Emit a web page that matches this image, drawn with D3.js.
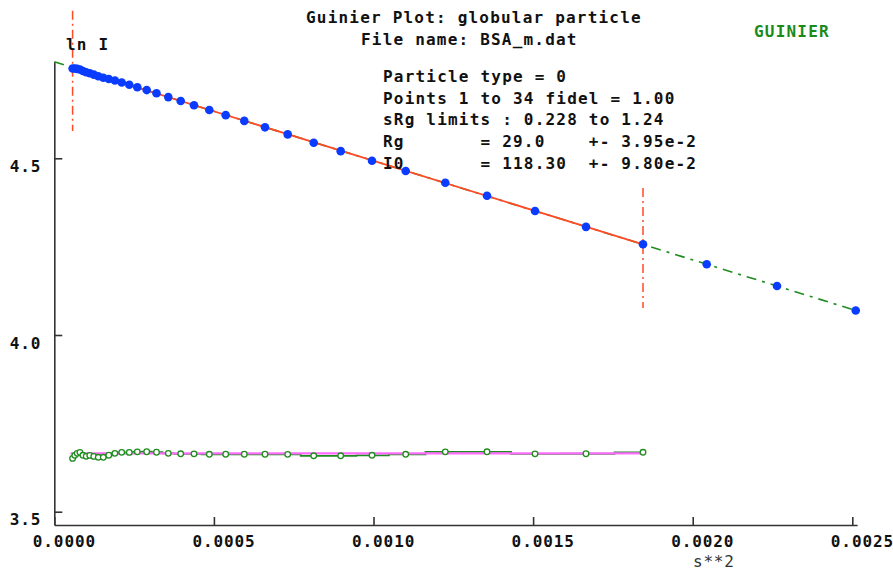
<!DOCTYPE html>
<html>
<head>
<meta charset="utf-8">
<script src="https://cdn.jsdelivr.net/npm/d3@7"></script>
<style>
  body { margin: 0; background: white; }
  text { white-space: pre; }
</style>
</head>
<body>
<div id="container"></div>
<script>
let w = 893;
let h = 570;

let s2 = [
  0.0000573, 0.0000642, 0.0000717, 0.0000802, 0.0000896, 0.0000999,
  0.0001112, 0.0001237, 0.0001378, 0.0001535, 0.0001707, 0.0001898,
  0.0002112, 0.0002350, 0.0002600, 0.0002895, 0.0003202, 0.0003571,
  0.0003960, 0.0004377, 0.0004856, 0.0005370, 0.0005952, 0.0006601,
  0.0007312, 0.0008127, 0.0008972, 0.0009953, 0.0011009, 0.0012249,
  0.0013556, 0.0015060, 0.0016657, 0.0018443, 0.0020439, 0.0022641,
  0.0025107
];
// ln I of every point
let lnI = [
  4.7541, 4.7540, 4.7531, 4.7513, 4.7469, 4.7434,
  4.7408, 4.7367, 4.7322, 4.7278, 4.7242, 4.7200,
  4.7146, 4.7079, 4.7012, 4.6930, 4.6841, 4.6731,
  4.6619, 4.6502, 4.6365, 4.6221, 4.6058, 4.5876,
  4.5676, 4.5439, 4.5202, 4.4930, 4.4640, 4.4307,
  4.3941, 4.3507, 4.3060, 4.2568, 4.2002, 4.1385,
  4.0694
];

// fit results shown in the plot
let firstPoint = 1;
let lastPoint = 34;
let rg = 29.0;
let i0 = 118.30;

let xTicks = [0, 0.0005, 0.0010, 0.0015, 0.0020, 0.0025];
let yTicks = [3.5, 4.0, 4.5];

let titleLines = ["Guinier Plot: globular particle", "File name: BSA_m.dat"];
let infoLines = [
  "Particle type = 0",
  "Points 1 to 34 fidel = 1.00",
  "sRg limits : 0.228 to 1.24",
  "Rg       = 29.0    +- 3.95e-2",
  "I0       = 118.30  +- 9.80e-2"
];

let mono = "'DejaVu Sans Mono', monospace";
let blue = "#0a3cff";
let red = "#ff4a26";
let green = "#1f8c1f";
let pink = "#ff6cff";

// straight line ln I = ln I0 - Rg^2/3 * s^2
function fit(q){
  return Math.log(i0) - rg * rg / 3 * q;
}

let points = s2.map(function(q, i){
  return {q: q, lnI: lnI[i], i: i + 1};
});
let fitPoints = points.filter(function(d){
  return d.i >= firstPoint && d.i <= lastPoint;
});

let viz = d3.select("#container")
  .append("svg")
    .attr("width", w)
    .attr("height", h)
    .style("background-color", "white")
;

let xScale = d3.scaleLinear().domain([0, 0.002515]).range([54.3, 857.1]);
let yScale = d3.scaleLinear().domain([3.4624, 4.7733]).range([525, 61.7]);
// residuals get their own, magnified scale around the pink zero line
let resScale = d3.scaleLinear().domain([-0.006, 0.006]).range([463.3, 443.3]);

// axes
let xAxis = d3.axisBottom(xScale)
  .tickValues(xTicks)
  .tickFormat(d3.format(".4f"))
  .tickSizeInner(-8)
  .tickSizeOuter(0);
let xAxisGroup = viz.append("g").attr("class", "xaxis")
  .attr("transform", "translate(0,525)")
  .call(xAxis);

let yAxis = d3.axisLeft(yScale)
  .tickValues(yTicks)
  .tickFormat(d3.format(".1f"))
  .tickSizeInner(-8)
  .tickSizeOuter(0);
let yAxisGroup = viz.append("g").attr("class", "yaxis")
  .attr("transform", "translate(54.3,0)")
  .call(yAxis);

viz.selectAll(".xaxis path, .yaxis path, .xaxis line, .yaxis line")
  .attr("stroke", "#333")
  .attr("stroke-width", 1.6);

xAxisGroup.selectAll("text")
  .attr("text-anchor", "start")
  .attr("x", -22)
  .attr("y", 22)
  .attr("dy", 0)
  .attr("fill", "#111")
  .style("font-family", mono)
  .style("font-weight", "bold")
  .style("font-size", "16px")
  .style("letter-spacing", "0.9px");

yAxisGroup.selectAll("text")
  .attr("text-anchor", "start")
  .attr("x", -44.5)
  .attr("y", 13)
  .attr("dy", 0)
  .attr("fill", "#111")
  .style("font-family", mono)
  .style("font-weight", "bold")
  .style("font-size", "16px")
  .style("letter-spacing", "0.9px");

// full fitted line, green dash-dot
let line = d3.line()
  .x(function(d){ return xScale(d); })
  .y(function(d){ return yScale(fit(d)); });

viz.append("path")
  .datum(xScale.domain())
  .attr("d", line)
  .attr("fill", "none")
  .attr("stroke", green)
  .attr("stroke-width", 1.6)
  .attr("stroke-dasharray", "10,6,3,6");

// fitted range, red
viz.append("path")
  .datum([fitPoints[0].q, fitPoints[fitPoints.length - 1].q])
  .attr("d", line)
  .attr("fill", "none")
  .attr("stroke", red)
  .attr("stroke-width", 1.8);

// limit markers
viz.selectAll(".limit")
  .data([fitPoints[0].q, fitPoints[fitPoints.length - 1].q])
  .enter()
  .append("line")
    .attr("class", "limit")
    .attr("x1", function(d){ return xScale(d); })
    .attr("x2", function(d){ return xScale(d); })
    .attr("y1", function(d){ return yScale(fit(d) + 0.16); })
    .attr("y2", function(d){ return yScale(fit(d) - 0.18); })
    .attr("stroke", red)
    .attr("stroke-width", 1.5)
    .attr("stroke-dasharray", "9,4,2,4");

// data points
viz.selectAll(".pt")
  .data(points)
  .enter()
  .append("circle")
    .attr("class", "pt")
    .attr("cx", function(d){ return xScale(d.q); })
    .attr("cy", function(d){ return yScale(d.lnI); })
    .attr("r", 4.3)
    .attr("fill", blue);

// residuals
let resLine = d3.line()
  .curve(d3.curveStep)
  .x(function(d){ return xScale(d.q); })
  .y(function(d){ return resScale(d.lnI - fit(d.q)); });

viz.append("path")
  .datum(fitPoints)
  .attr("d", resLine)
  .attr("fill", "none")
  .attr("stroke", green)
  .attr("stroke-width", 1.8);

viz.append("line")
  .attr("x1", xScale(fitPoints[0].q) - 2)
  .attr("x2", xScale(fitPoints[fitPoints.length - 1].q) + 2)
  .attr("y1", resScale(0))
  .attr("y2", resScale(0))
  .attr("stroke", pink)
  .attr("stroke-width", 2.2);

viz.selectAll(".res")
  .data(fitPoints)
  .enter()
  .append("circle")
    .attr("class", "res")
    .attr("cx", function(d){ return xScale(d.q); })
    .attr("cy", function(d){ return resScale(d.lnI - fit(d.q)); })
    .attr("r", 2.8)
    .attr("fill", "white")
    .attr("stroke", green)
    .attr("stroke-width", 1.3);

// texts
function bold(sel){
  return sel
    .style("font-family", mono)
    .style("font-weight", "bold")
    .style("font-size", "16px")
    .style("letter-spacing", "1.2px");
}

viz.selectAll(".title")
  .data(titleLines)
  .enter()
  .append("text")
    .attr("class", "title")
    .attr("x", function(d, i){ return i == 0 ? 306 : 361; })
    .attr("y", function(d, i){ return 23 + i * 22; })
    .attr("fill", "#111")
    .text(function(d){ return d; })
    .call(bold);

viz.selectAll(".info")
  .data(infoLines)
  .enter()
  .append("text")
    .attr("class", "info")
    .attr("x", 383)
    .attr("y", function(d, i){ return 82 + i * 21.7; })
    .attr("fill", "#111")
    .text(function(d){ return d; })
    .call(bold);

viz.append("text")
  .attr("x", 754)
  .attr("y", 37)
  .attr("fill", "#1a8a1a")
  .text("GUINIER")
  .call(bold);

viz.append("text")
  .attr("x", 66)
  .attr("y", 50)
  .attr("fill", "#111")
  .text("ln I")
  .call(bold);

viz.append("text")
  .attr("x", 693)
  .attr("y", 567)
  .attr("fill", "#333")
  .style("font-family", mono)
  .style("font-size", "16px")
  .style("letter-spacing", "0.8px")
  .text("s**2");
</script>
</body>
</html>
